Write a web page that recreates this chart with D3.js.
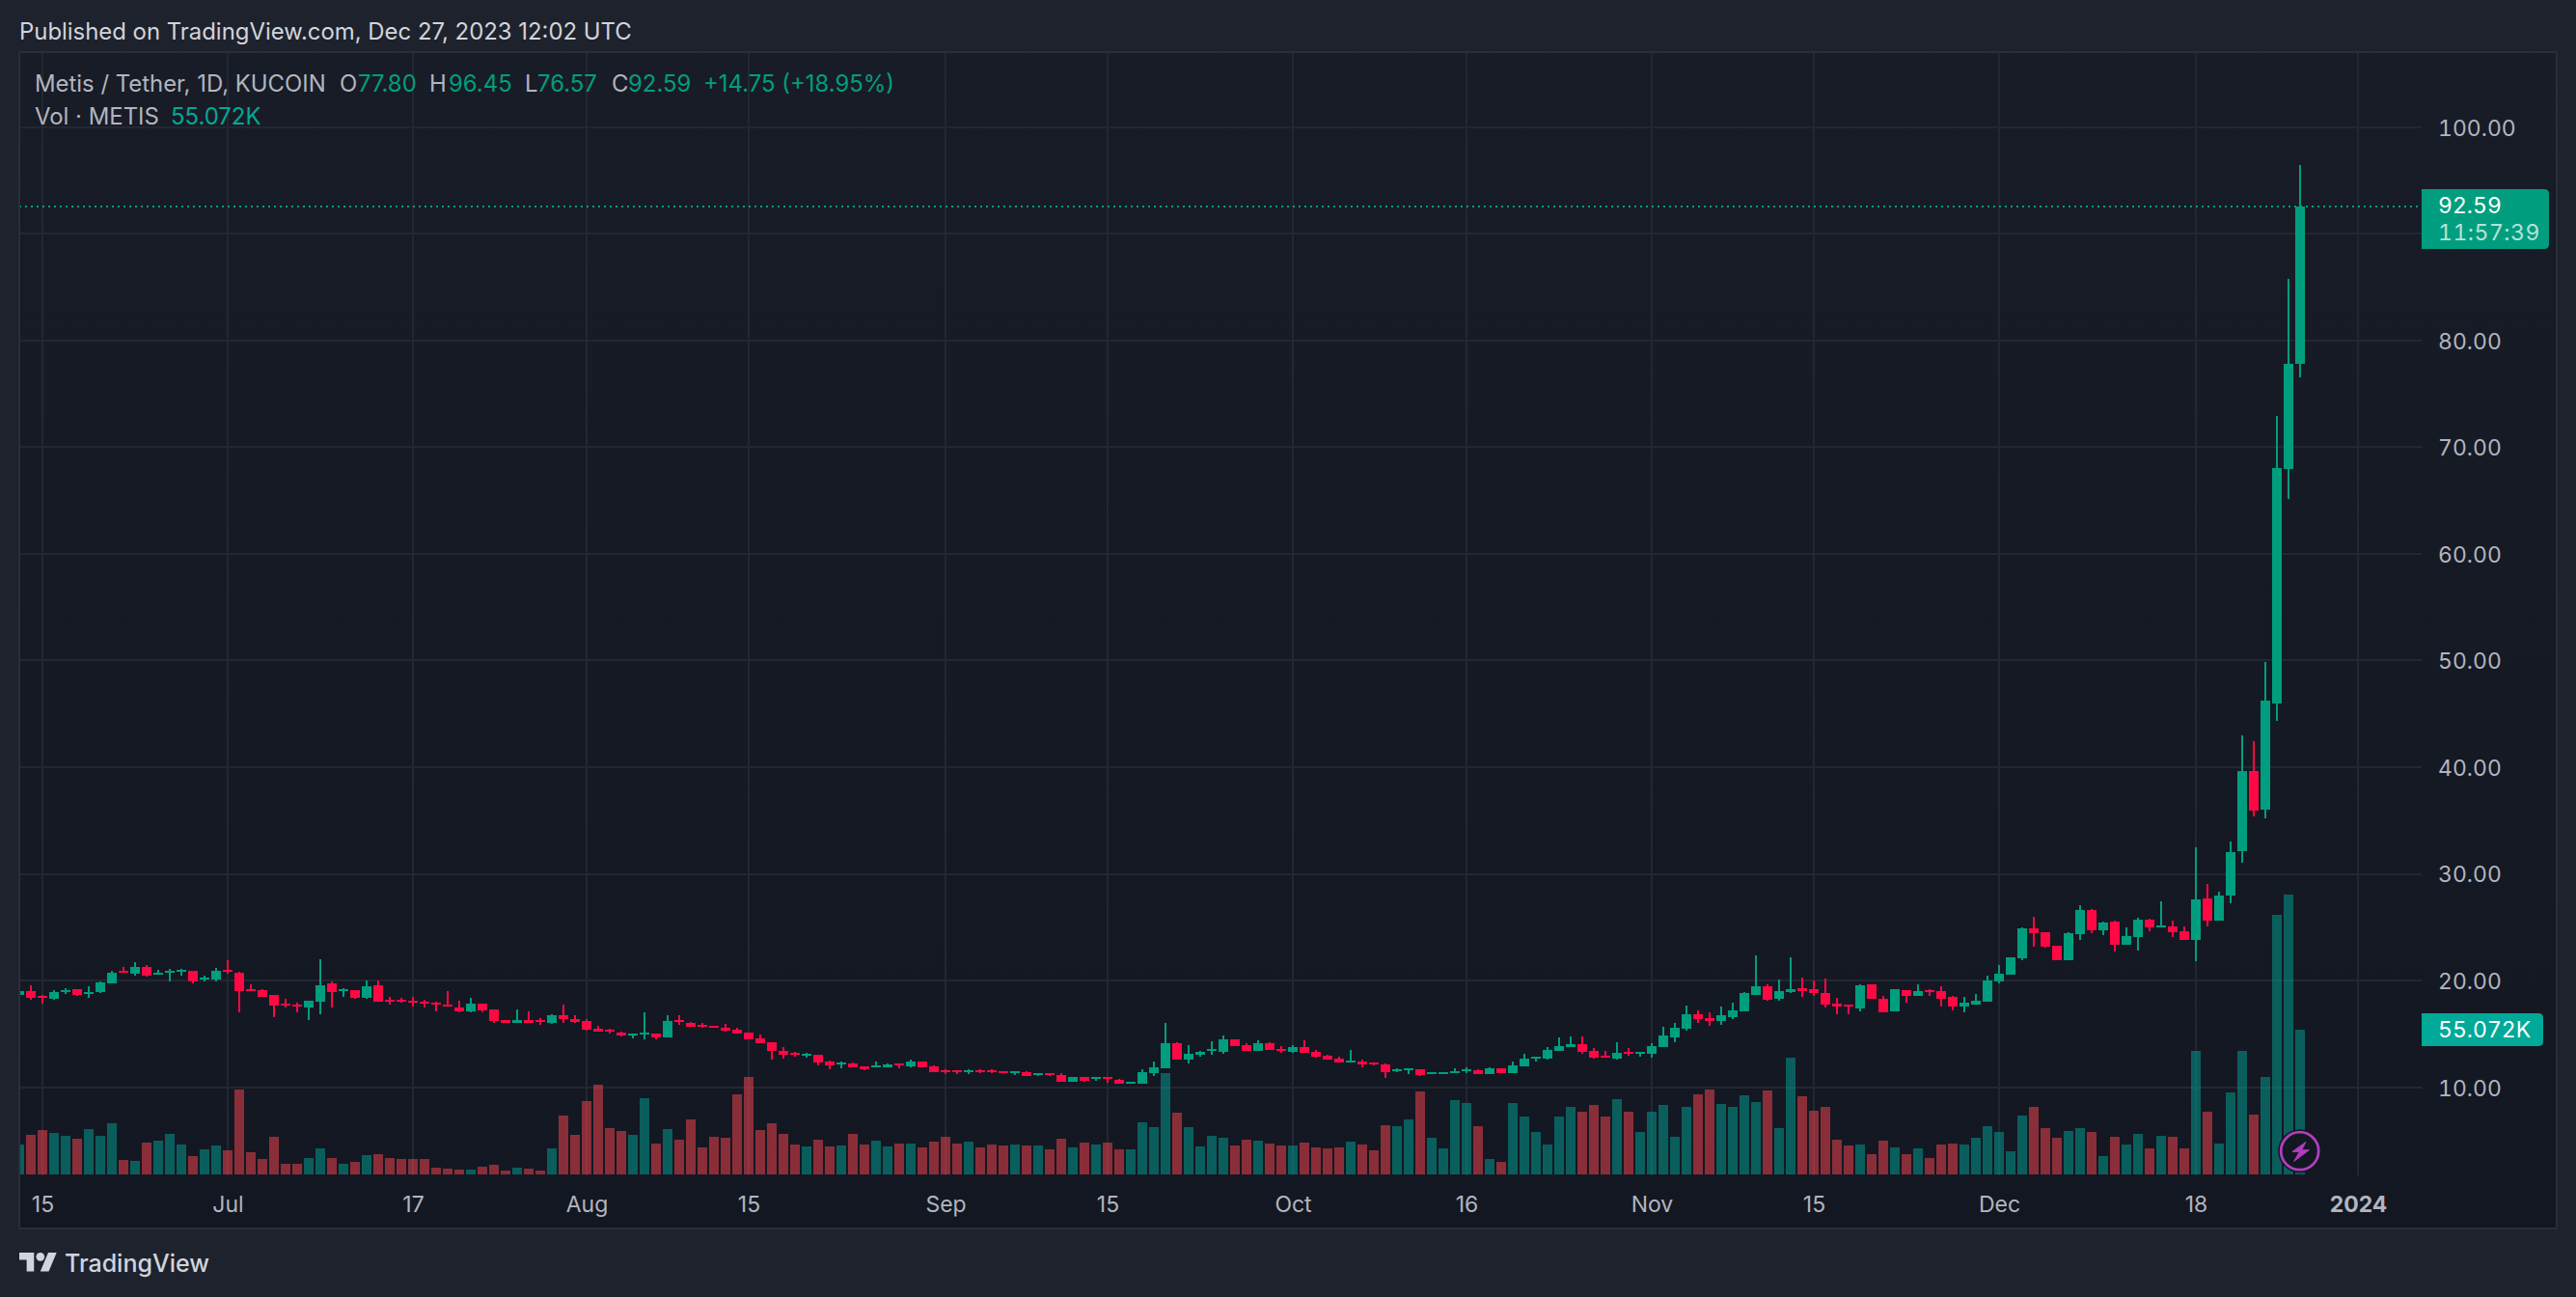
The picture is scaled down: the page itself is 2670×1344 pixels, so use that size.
<!DOCTYPE html>
<html><head><meta charset="utf-8">
<script src="https://cdn.jsdelivr.net/npm/d3@7/dist/d3.min.js"></script>
<style>
html,body{margin:0;padding:0;background:#1e222d;overflow:hidden}
svg{display:block}
text{font-family:Inter,"Noto Sans",sans-serif}
.tn{font-variant-numeric:tabular-nums;font-feature-settings:"tnum" 1}
</style></head><body><svg id="c" width="2670" height="1344"></svg>
<script>
const startDate = "2023-06-13";
const opens = [18.68,19.01,18.59,18.29,19.01,19.16,18.74,18.92,19.74,20.88,
20.64,21.28,20.58,20.79,20.85,20.88,20.13,20.10,20.97,20.73,
19.16,19.10,18.65,17.81,17.75,17.48,18.02,19.74,19.04,19.10,
18.38,19.56,18.20,18.20,18.11,17.99,17.93,17.72,17.48,17.11,
17.84,17.30,16.27,16.06,16.27,16.27,16.03,16.75,16.39,16.21,
15.49,15.37,15.12,14.85,15.00,15.00,14.67,16.30,16.03,15.88,
15.76,15.58,15.40,15.12,14.58,14.22,13.41,13.22,12.98,13.04,
12.41,12.20,12.23,11.96,11.87,11.87,12.23,11.96,12.41,11.96,
11.59,11.59,11.45,11.59,11.59,11.51,11.36,11.42,11.18,11.33,
11.14,10.51,10.96,10.81,10.96,10.69,10.33,10.33,11.33,11.78,
14.13,12.59,13.04,13.41,13.32,14.49,13.95,13.41,14.13,13.58,
13.32,13.77,13.32,12.95,12.68,12.32,12.41,12.32,12.14,11.54,
11.62,11.68,11.23,11.23,11.33,11.51,11.59,11.23,11.78,11.33,
11.96,12.68,12.68,13.41,13.77,14.04,13.41,12.95,12.68,13.32,
13.16,13.13,13.77,14.67,15.49,16.84,16.48,16.21,16.57,17.11,
18.65,19.47,18.29,18.92,19.28,19.20,18.83,17.84,17.75,17.39,
19.65,18.29,17.11,19.10,18.56,19.10,19.01,18.47,17.57,17.75,
18.02,19.92,20.55,22.09,24.89,24.53,23.27,21.91,24.35,26.61,
24.71,25.53,23.36,24.08,25.71,24.98,25.07,24.62,23.81,27.70,
25.62,27.97,32.13,39.64,36.02,45.97,67.95,77.80];
const closes = [19.04,18.41,18.47,18.89,19.13,18.65,18.92,19.83,20.73,20.76,
21.25,20.46,20.70,20.91,20.97,19.92,20.25,20.88,20.82,19.01,
19.01,18.47,17.66,17.66,17.63,18.08,19.56,18.92,19.16,18.38,
19.44,18.02,18.08,18.05,17.99,17.87,17.81,17.60,17.11,17.84,
17.21,16.21,16.06,16.27,16.06,16.12,16.75,16.39,16.12,15.40,
15.21,15.21,14.85,15.00,15.12,14.67,16.21,16.15,15.67,15.67,
15.58,15.30,15.03,14.49,14.13,13.41,13.04,13.04,13.13,12.32,
12.05,12.32,11.87,11.68,12.05,12.14,12.08,12.41,11.87,11.42,
11.42,11.42,11.59,11.42,11.42,11.33,11.51,11.05,11.33,11.18,
10.51,10.96,10.60,10.96,10.81,10.33,10.51,11.42,11.87,14.13,
12.59,13.13,13.32,13.58,14.49,13.86,13.41,14.13,13.50,13.37,
13.77,13.22,12.86,12.59,12.32,12.47,12.11,12.14,11.42,11.68,
11.78,11.14,11.42,11.42,11.51,11.68,11.23,11.78,11.33,12.05,
12.68,12.86,13.50,13.86,14.04,13.32,12.77,12.77,13.22,13.13,
13.32,13.86,14.85,15.58,16.84,16.39,16.21,16.75,17.21,18.83,
19.47,18.20,19.01,19.20,19.01,18.83,17.75,17.57,17.60,19.56,
18.29,17.02,19.20,18.56,19.01,18.95,18.29,17.57,17.93,18.11,
20.01,20.64,22.18,24.89,24.44,23.17,21.91,24.44,26.61,24.71,
25.44,23.36,24.17,25.71,24.98,25.16,24.53,23.81,27.61,25.62,
27.97,32.04,39.64,35.93,46.24,68.04,77.80,92.59];
const highs = [19.04,19.56,18.65,19.10,19.28,19.20,19.44,19.89,20.91,21.28,
21.73,21.46,20.97,21.10,21.10,20.88,20.43,21.19,21.91,20.82,
19.65,19.16,18.65,18.29,17.93,18.08,22.00,19.92,19.28,19.10,
20.01,20.01,18.47,18.38,18.47,18.20,18.02,19.01,18.11,18.38,
17.84,17.30,16.27,17.30,17.11,16.48,16.84,17.75,16.75,16.39,
15.76,15.49,15.21,15.00,17.02,15.00,16.75,16.75,16.12,16.03,
15.76,15.94,15.58,15.12,14.94,14.22,13.77,13.32,13.22,13.04,
12.50,12.41,12.32,11.96,12.41,12.23,12.23,12.59,12.41,12.05,
11.68,11.59,11.68,11.68,11.68,11.51,11.51,11.51,11.33,11.33,
11.33,10.96,10.96,10.96,10.96,10.78,10.51,11.68,12.41,16.03,
14.22,13.95,13.41,14.31,14.85,14.49,14.13,14.40,14.22,13.86,
13.95,14.40,13.50,13.04,12.86,13.50,12.59,12.32,12.23,11.78,
11.78,11.68,11.42,11.42,11.78,11.87,11.68,11.87,11.78,12.41,
13.13,12.86,13.77,14.67,14.76,14.76,13.68,13.41,14.22,13.68,
13.32,14.13,15.67,16.03,17.66,17.21,17.02,17.57,17.93,18.92,
22.36,19.65,20.10,22.18,20.28,20.01,20.19,18.38,17.75,19.65,
19.65,18.56,19.20,19.10,19.65,19.20,19.47,18.56,18.47,18.74,
20.46,21.46,22.18,24.98,25.98,24.53,23.27,24.53,27.06,26.70,
25.53,25.62,24.98,25.89,25.80,27.43,25.62,25.07,32.49,29.05,
28.33,33.03,42.99,42.44,49.86,72.93,85.77,96.45];
const lows = [18.68,18.20,17.84,18.20,18.77,18.56,18.41,18.83,19.74,20.76,
20.46,20.37,20.58,19.92,20.46,19.74,19.92,19.92,20.64,17.02,
19.01,18.47,16.57,17.48,17.02,16.30,16.84,17.48,18.47,18.29,
18.29,18.02,17.75,17.93,17.57,17.48,17.11,17.60,17.02,17.02,
17.02,16.03,16.06,16.06,16.06,15.85,15.94,16.03,16.03,15.30,
15.21,15.03,14.76,14.58,14.49,14.49,14.67,15.85,15.67,15.58,
15.58,15.21,15.03,14.49,14.13,12.59,12.68,12.86,12.77,12.05,
11.68,11.78,11.87,11.59,11.87,11.87,11.78,11.87,11.87,11.42,
11.23,11.23,11.23,11.33,11.33,11.33,11.14,11.05,11.05,11.05,
10.51,10.51,10.51,10.60,10.42,10.33,10.33,10.33,11.05,11.78,
12.59,12.23,12.86,13.04,13.13,13.86,13.41,13.41,13.50,13.22,
13.22,13.22,12.77,12.59,12.32,12.32,11.87,12.05,10.87,11.42,
11.23,11.05,11.23,11.23,11.33,11.33,11.23,11.23,11.33,11.33,
11.96,12.41,12.59,13.41,13.77,13.13,12.68,12.77,12.59,12.95,
12.86,12.77,13.77,14.22,15.30,16.03,15.76,15.85,16.39,17.11,
18.65,18.11,18.11,18.83,18.47,18.56,17.48,16.84,16.84,17.11,
18.29,17.02,17.11,17.93,18.56,18.56,17.57,17.21,17.02,17.75,
18.02,19.74,20.55,21.91,23.17,23.08,21.91,21.91,23.81,24.44,
24.26,22.72,23.36,22.81,24.62,24.98,24.08,23.81,21.82,25.07,
25.62,27.25,31.04,35.39,35.21,44.35,65.15,76.57];
const volumes = [11.38,15.06,16.89,15.79,14.69,13.59,17.26,14.69,19.46,5.51,
5.14,12.12,12.85,15.42,11.38,6.98,9.55,11.02,9.18,32.31,
8.45,5.88,14.32,4.04,4.04,6.24,9.91,6.24,4.04,4.77,
7.34,7.71,6.24,5.88,5.88,5.88,2.57,2.20,1.84,1.84,
2.94,3.67,1.47,2.57,2.20,1.47,9.91,22.40,15.06,27.91,
34.15,17.63,16.52,15.06,29.01,11.75,17.26,13.22,20.93,10.28,
14.32,13.95,30.48,37.09,16.89,19.46,15.42,11.38,10.65,13.22,
10.65,11.02,15.42,11.38,12.85,10.65,11.75,11.75,10.28,12.48,
14.32,11.75,12.48,10.28,11.38,11.02,11.38,11.02,11.02,9.55,
13.59,10.28,12.12,11.38,12.12,9.55,9.55,19.83,17.99,38.56,
23.50,17.99,10.65,14.69,13.95,11.02,13.22,12.85,11.75,11.02,
11.02,12.12,10.28,9.91,10.28,12.48,11.38,9.18,18.73,18.36,
20.93,31.58,13.95,9.91,28.27,27.17,18.36,5.88,4.77,27.17,
22.03,16.16,11.38,22.03,25.70,23.87,26.44,22.03,28.64,23.87,
16.16,23.87,26.44,14.32,25.70,30.48,32.31,26.81,25.70,30.11,
27.54,31.95,17.63,44.43,29.74,24.24,25.70,13.22,11.02,11.38,
7.71,12.85,10.28,7.71,9.91,6.24,11.38,11.75,11.38,13.95,
18.36,16.16,8.81,22.40,25.70,17.63,13.95,16.52,17.63,16.16,
6.98,14.32,11.38,15.42,9.91,14.69,14.32,9.91,47.00,23.87,
11.75,31.21,47.00,22.77,37.09,98.78,106.49,55.072];
const priceTicks = [10,20,30,40,50,60,70,80,90,100];
const priceTickLabels = [10,20,30,40,50,60,70,80,100];
const timeTicks = ["2023-06-15","2023-07-01","2023-07-17","2023-08-01","2023-08-15","2023-09-01","2023-09-15","2023-10-01","2023-10-16","2023-11-01","2023-11-15","2023-12-01","2023-12-18","2024-01-01"];
const timeLabels = ["15","Jul","17","Aug","15","Sep","15","Oct","16","Nov","15","Dec","18","2024"];
const lastOpen = 77.80, lastHigh = 96.45, lastLow = 76.57, lastClose = 92.59;
const lastVolume = 55.072;

const UP="#009e7e", DOWN="#ff0844", VUP="rgba(0,165,152,0.5)", VDOWN="rgba(255,69,80,0.5)";
const GRID="#232732", BORDER="#2a2e39", TXT="#b2b5be";
const FS=23;
const svg=d3.select("#c");
const parse=d3.utcParse("%Y-%m-%d");
const x=d3.scaleUtc().domain([parse("2023-06-15"),parse("2024-01-01")]).range([44,2444]);
const y=d3.scaleLinear().domain([10,100]).range([1126.7,131.7]);
const vy=d3.scaleLinear().domain([0,lastVolume]).range([1217,1067]);
const t0=parse(startDate);
const data=opens.map((o,i)=>({date:d3.utcDay.offset(t0,i),o,c:closes[i],h:highs[i],l:lows[i],v:volumes[i]}));

const PL=20,PR=2510,PT=54,PB=1217;
const defs=svg.append("defs");
const g=defs.append("linearGradient").attr("id","bg").attr("x1",0).attr("x2",0).attr("y1",0).attr("y2",1);
g.append("stop").attr("offset",0).attr("stop-color","#181c27");
g.append("stop").attr("offset",1).attr("stop-color","#131722");
defs.append("clipPath").attr("id","clip").append("rect").attr("x",PL).attr("y",PT).attr("width",PR-PL).attr("height",PB-PT+1);

svg.append("rect").attr("width",2670).attr("height",1344).attr("fill","#1e222d");
svg.append("rect").attr("x",19).attr("y",53).attr("width",2631).attr("height",1221).attr("fill","url(#bg)");

// grid
const grid=svg.append("g").attr("stroke",GRID).attr("stroke-width",2).attr("shape-rendering","crispEdges");
grid.selectAll("line.v").data(timeTicks).join("line").attr("x1",d=>x(parse(d))).attr("x2",d=>x(parse(d))).attr("y1",PT).attr("y2",PB+1);
grid.selectAll("line.h").data(priceTicks).join("line").attr("x1",PL).attr("x2",PR).attr("y1",d=>Math.round(y(d))).attr("y2",d=>Math.round(y(d)));

const plot=svg.append("g").attr("clip-path","url(#clip)").attr("shape-rendering","crispEdges");
// volume
plot.append("g").selectAll("rect").data(data).join("rect")
 .attr("x",d=>x(d.date)-5).attr("width",10)
 .attr("y",d=>Math.round(vy(d.v))).attr("height",d=>PB-Math.round(vy(d.v)))
 .attr("fill",d=>d.c>=d.o?VUP:VDOWN);
// wicks
plot.append("g").selectAll("rect").data(data).join("rect")
 .attr("x",d=>x(d.date)-1).attr("width",2)
 .attr("y",d=>Math.round(y(d.h))).attr("height",d=>Math.max(1,Math.round(y(d.l))-Math.round(y(d.h))))
 .attr("fill",d=>d.c>=d.o?UP:DOWN);
// bodies
plot.append("g").selectAll("rect").data(data).join("rect")
 .attr("x",d=>x(d.date)-5).attr("width",10)
 .attr("y",d=>Math.round(y(Math.max(d.o,d.c)))).attr("height",d=>Math.max(2,Math.round(y(Math.min(d.o,d.c)))-Math.round(y(Math.max(d.o,d.c)))))
 .attr("fill",d=>d.c>=d.o?UP:DOWN);

// last price line
svg.append("line").attr("x1",PL).attr("x2",PR).attr("y1",Math.round(y(lastClose))).attr("y2",Math.round(y(lastClose)))
 .attr("stroke",UP).attr("stroke-width",2).attr("stroke-dasharray","2 4").attr("shape-rendering","crispEdges");

// axes
const yAxis=d3.axisRight(y).tickValues(priceTickLabels).tickSize(0).tickPadding(0).tickFormat(d3.format(".2f"));
const ya=svg.append("g").attr("transform","translate(2527,1)").call(yAxis);
ya.select(".domain").remove();
ya.selectAll("text").attr("class","tn").attr("fill",TXT).attr("font-size",FS).attr("font-family","Inter");
const xAxis=d3.axisBottom(x).tickValues(timeTicks.map(parse)).tickSize(0).tickPadding(0).tickFormat((d,i)=>timeLabels[i]);
const xa=svg.append("g").attr("transform","translate(0,1247.5)").call(xAxis);
xa.select(".domain").remove();
xa.selectAll("text").attr("fill",TXT).attr("font-size",FS).attr("font-family","Inter").attr("dy","0.36em").attr("font-weight",(d,i)=>timeLabels[i]==="2024"?700:400);

// border
svg.append("rect").attr("x",20).attr("y",54).attr("width",2630).attr("height",1219).attr("fill","none").attr("stroke",BORDER).attr("stroke-width",2);

// label helpers
function T(s,xp,yp,fill,opt){const e=svg.append("text").attr("x",xp).attr("y",yp).attr("dy","0.36em").attr("fill",fill).attr("font-size",(opt&&opt.fs)||FS).text(s);
 if(opt&&opt.w)e.attr("font-weight",opt.w); if(opt&&opt.o)e.attr("fill-opacity",opt.o); if(opt&&opt.ls)e.attr("letter-spacing",opt.ls); if(opt&&opt.tn)e.attr("class","tn"); return e;}
const HF={fs:23.9};
T("Published on TradingView.com, Dec 27, 2023 12:02 UTC",20,32,"#d1d4dc",HF);
const LTX="#b2b5be", LUP="#009e7e";
T("Metis / Tether, 1D, KUCOIN",36,86,LTX,HF);
T("O",352,86,LTX,HF);T(lastOpen.toFixed(2),371,86,LUP,HF);
T("H",445,86,LTX,HF);T(lastHigh.toFixed(2),465,86,LUP,HF);
T("L",544,86,LTX,HF);T(lastLow.toFixed(2),557,86,LUP,HF);
T("C",634,86,LTX,HF);T(lastClose.toFixed(2),651,86,LUP,HF);
T("+14.75 (+18.95%)",729,86,LUP,HF);
T("Vol · METIS",36,120,LTX,HF);
T(lastVolume.toFixed(3)+"K",177,120,"#00a998",HF);

// price labels
function tag(x0,x1,y0,y1,fill){const r=5;svg.append("path").attr("d",`M${x0},${y0}H${x1-r}Q${x1},${y0} ${x1},${y0+r}V${y1-r}Q${x1},${y1} ${x1-r},${y1}H${x0}Z`).attr("fill",fill);}
tag(PR,2642,196,258,"#009e7e");
T(lastClose.toFixed(2),2527,213,"#ffffff",{tn:1});
T("11:57:39",2527,241,"#ffffff",{o:0.72,tn:1,ls:0.5});
tag(PR,2636,1050,1084,"#00a998");
T(lastVolume.toFixed(3)+"K",2527,1067,"#ffffff",{tn:1});

// bolt icon
const icon=svg.append("g").attr("transform","translate(2383.7,1192.7)");
icon.append("circle").attr("r",22.5).attr("fill","#131722");
icon.append("circle").attr("r",19.5).attr("fill","#131722").attr("stroke","#b13dbd").attr("stroke-width",2.8);
icon.append("path").attr("d","M6.3,-9.3 L-7.7,0.7 L-0.3,0.7 L-6,10.7 L9.7,-1 L2,-1 Z").attr("fill","#b13dbd").attr("stroke","#b13dbd").attr("stroke-width",1).attr("stroke-linejoin","round");

// logo
const logo=svg.append("g").attr("transform","translate(20,1293.6) scale(1.09)").attr("fill","#d1d4dc");
logo.append("path").attr("d","M14 22H7V11H0V4h14v18zM28 22h-8l7.5-18h8L28 22z");
logo.append("circle").attr("cx",20).attr("cy",8).attr("r",4);
T("TradingView",67,1309,"#d1d4dc",{fs:25,w:500});
</script></body></html>
